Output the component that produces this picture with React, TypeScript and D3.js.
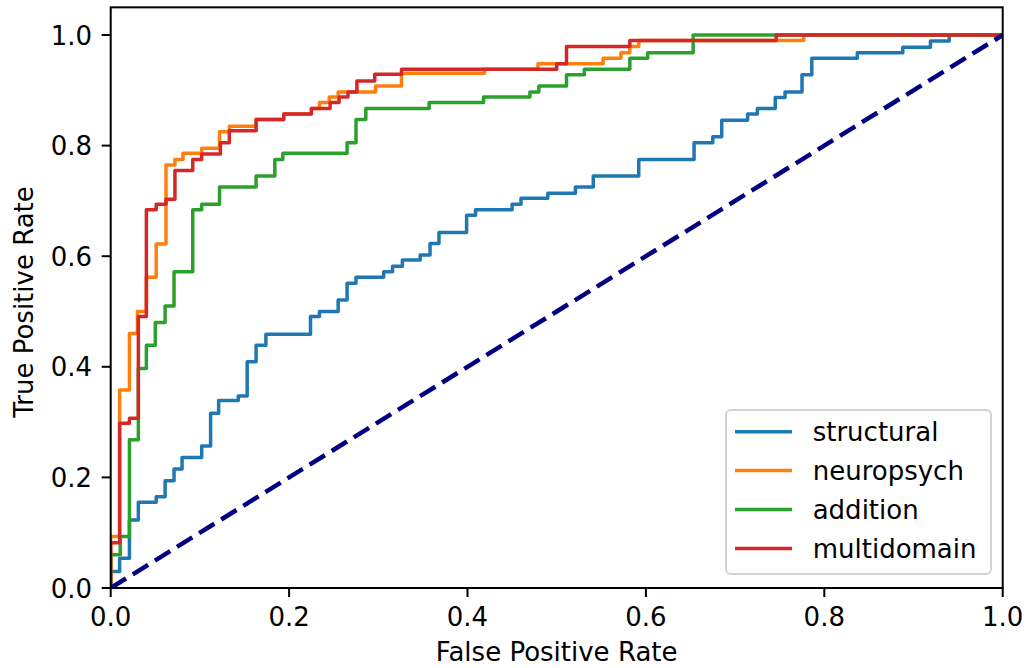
import * as d3 from 'd3';

// ROC curve corners (fpr, tpr)
const structuralFpr = [0, 0, 0.010, 0.021, 0.031, 0.051, 0.061, 0.071, 0.080, 0.102, 0.112, 0.121, 0.143, 0.153, 0.163, 0.174, 0.224, 0.234, 0.255, 0.265, 0.275, 0.306, 0.316, 0.327, 0.347, 0.358, 0.368, 0.399, 0.409, 0.450, 0.460, 0.490, 0.521, 0.541, 0.592, 0.654, 0.675, 0.685, 0.714, 0.725, 0.745, 0.756, 0.775, 0.786, 0.837, 0.888, 0.919, 0.940, 1.0];
const structuralTpr = [0, 0.030, 0.054, 0.123, 0.155, 0.165, 0.194, 0.215, 0.236, 0.257, 0.316, 0.339, 0.347, 0.409, 0.439, 0.459, 0.491, 0.500, 0.521, 0.551, 0.562, 0.572, 0.582, 0.593, 0.602, 0.623, 0.643, 0.674, 0.684, 0.694, 0.705, 0.714, 0.725, 0.745, 0.775, 0.805, 0.816, 0.846, 0.857, 0.867, 0.887, 0.897, 0.928, 0.958, 0.968, 0.978, 0.989, 1.0, 1.0];

const neuropsychFpr = [0, 0, 0.010, 0.021, 0.030, 0.040, 0.051, 0.062, 0.072, 0.081, 0.102, 0.122, 0.133, 0.163, 0.194, 0.225, 0.234, 0.245, 0.255, 0.297, 0.326, 0.419, 0.479, 0.552, 0.572, 0.582, 0.592, 0.777, 1.0];
const neuropsychTpr = [0, 0.093, 0.358, 0.460, 0.500, 0.562, 0.622, 0.765, 0.775, 0.786, 0.795, 0.825, 0.835, 0.847, 0.857, 0.867, 0.878, 0.888, 0.897, 0.908, 0.931, 0.938, 0.948, 0.958, 0.968, 0.979, 0.990, 1.0, 1.0];

const additionFpr = [0, 0, 0.0107, 0.021, 0.031, 0.040, 0.050, 0.061, 0.071, 0.092, 0.102, 0.122, 0.163, 0.184, 0.193, 0.265, 0.275, 0.286, 0.357, 0.418, 0.470, 0.480, 0.511, 0.531, 0.582, 0.602, 0.653, 1.0];
const additionTpr = [0, 0.060, 0.093, 0.268, 0.397, 0.439, 0.480, 0.510, 0.572, 0.684, 0.694, 0.725, 0.745, 0.775, 0.786, 0.805, 0.847, 0.867, 0.878, 0.888, 0.897, 0.908, 0.928, 0.938, 0.958, 0.968, 1.0, 1.0];

const multidomainFpr = [0, 0, 0.010, 0.021, 0.031, 0.040, 0.051, 0.062, 0.072, 0.092, 0.102, 0.123, 0.133, 0.163, 0.194, 0.225, 0.246, 0.256, 0.266, 0.276, 0.296, 0.326, 0.500, 0.511, 0.582, 0.746, 1.0];
const multidomainTpr = [0, 0.082, 0.298, 0.307, 0.491, 0.684, 0.694, 0.703, 0.755, 0.775, 0.785, 0.805, 0.827, 0.847, 0.857, 0.867, 0.878, 0.888, 0.897, 0.917, 0.929, 0.938, 0.948, 0.979, 0.990, 1.0, 1.0];

const seriesNames = ['structural', 'neuropsych', 'addition', 'multidomain'];
const seriesColors = ['#1f77b4', '#ff7f0e', '#2ca02c', '#d62728'];
const xTicks = [0, 0.2, 0.4, 0.6, 0.8, 1.0];
const yTicks = [0, 0.2, 0.4, 0.6, 0.8, 1.0];

const W = 1028;
const H = 668;
const left = 110.7, right = 1002.7, bottom = 588, top = 7.35;
const font = 'DejaVu Sans, sans-serif';
const fs = 26;

const App = () => {
  const x = d3.scaleLinear().domain([0, 1]).range([left, right]);
  const y = d3.scaleLinear().domain([0, 1.05]).range([bottom, top]);

  const series = [
    { fpr: structuralFpr, tpr: structuralTpr },
    { fpr: neuropsychFpr, tpr: neuropsychTpr },
    { fpr: additionFpr, tpr: additionTpr },
    { fpr: multidomainFpr, tpr: multidomainTpr },
  ];

  const line = d3
    .line<[number, number]>()
    .x((d) => x(d[0]))
    .y((d) => y(d[1]))
    .curve(d3.curveStepAfter);

  const diag = d3.line<number>().x((d) => x(d)).y((d) => y(d));

  // legend
  const lgX = 726, lgY = 410, lgW = 265, lgH = 164;
  const rowY = (i: number) => 431.7 + i * 38.9;

  return (
    <div style={{ position: 'fixed', left: 0, top: 0 }}>
      <svg width={W} height={H} style={{ display: 'block', background: '#fff' }} fontFamily={font}>
        <defs>
          <clipPath id="plot">
            <rect x={left} y={top} width={right - left} height={bottom - top} />
          </clipPath>
        </defs>

        <g clipPath="url(#plot)">
          {series.map((s, i) => (
            <path
              key={seriesNames[i]}
              d={line(s.fpr.map((f, j) => [f, s.tpr[j]] as [number, number])) || ''}
              fill="none"
              stroke={seriesColors[i]}
              strokeWidth={3.5}
              strokeLinejoin="round"
            />
          ))}
          <path
            d={diag([0, 1]) || ''}
            fill="none"
            stroke="#000080"
            strokeWidth={4.5}
            strokeDasharray="18 8"
          />
        </g>

        {/* spines */}
        <rect x={left} y={top} width={right - left} height={bottom - top} fill="none" stroke="#000" strokeWidth={2} />

        {/* x axis */}
        {xTicks.map((t) => (
          <g key={'x' + t}>
            <line x1={x(t)} x2={x(t)} y1={bottom} y2={bottom + 9} stroke="#000" strokeWidth={2} />
            <text x={x(t)} y={bottom + 37.5} fontSize={fs} textAnchor="middle" fill="#000">
              {t.toFixed(1)}
            </text>
          </g>
        ))}
        <text x={(left + right) / 2} y={661} fontSize={fs} textAnchor="middle" fill="#000">
          False Positive Rate
        </text>

        {/* y axis */}
        {yTicks.map((t) => (
          <g key={'y' + t}>
            <line x1={left - 9} x2={left} y1={y(t)} y2={y(t)} stroke="#000" strokeWidth={2} />
            <text x={92} y={y(t) + 9.5} fontSize={fs} textAnchor="end" fill="#000">
              {t.toFixed(1)}
            </text>
          </g>
        ))}
        <text
          transform={`translate(33, 302) rotate(-90)`}
          fontSize={fs}
          textAnchor="middle"
          fill="#000"
        >
          True Positive Rate
        </text>

        {/* legend */}
        <rect x={lgX} y={lgY} width={lgW} height={lgH} rx={5} fill="#fff" fillOpacity={0.8} stroke="#d4d4d4" strokeWidth={2} />
        {seriesNames.map((n, i) => (
          <g key={'lg' + n}>
            <line x1={735} x2={792} y1={rowY(i)} y2={rowY(i)} stroke={seriesColors[i]} strokeWidth={3.5} />
            <text x={812.7} y={rowY(i) + 9.5} fontSize={fs} fill="#000">
              {n}
            </text>
          </g>
        ))}
      </svg>
    </div>
  );
};

export default App;
